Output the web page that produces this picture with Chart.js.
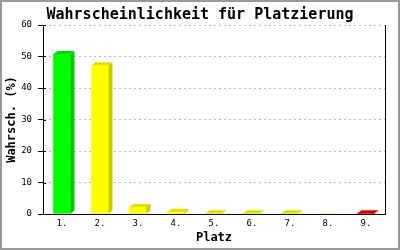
<!DOCTYPE html>
<html>
<head>
<meta charset="utf-8">
<style>
html,body{margin:0;padding:0;background:#fff;}
canvas{display:block;}
</style>
<script src="https://cdn.jsdelivr.net/npm/chart.js@4.4.1/dist/chart.umd.min.js"></script>
</head>
<body>
<canvas id="c" width="400" height="250"></canvas>
<script>
const categories = ["1.", "2.", "3.", "4.", "5.", "6.", "7.", "8.", "9."];
const values = [50.8, 47.2, 2.2, 0.7, 0.25, 0.25, 0.25, 0, 0.25];
const barColors = ["#00ff00", "#ffff00", "#ffff00", "#ffff00", "#ffff00", "#ffff00", "#ffff00", "#ffff00", "#ff0000"];
const yTicks = [0, 10, 20, 30, 40, 50, 60];

function shade(hex, f) {
  const n = parseInt(hex.slice(1), 16);
  const r = Math.round(((n >> 16) & 255) * f);
  const g = Math.round(((n >> 8) & 255) * f);
  const b = Math.round((n & 255) * f);
  return `rgb(${r},${g},${b})`;
}

const frame3d = {
  id: 'frame3d',
  beforeDraw(chart) {
    const ctx = chart.ctx;
    ctx.save();
    ctx.fillStyle = '#ffffff';
    ctx.fillRect(0, 0, chart.width, chart.height);
    ctx.restore();
  },
  afterDatasetsDraw(chart) {
    const ctx = chart.ctx;
    const meta = chart.getDatasetMeta(0);
    const dx = 4, dy = 3;
    ctx.save();
    meta.data.forEach((bar, i) => {
      if (!(values[i] > 0)) return;
      const p = bar.getProps(['x', 'y', 'base', 'width'], true);
      const l = p.x - p.width / 2, r = p.x + p.width / 2;
      const top = p.y, base = p.base;
      ctx.fillStyle = shade(barColors[i], 0.88);
      ctx.beginPath();
      ctx.moveTo(l, top);
      ctx.lineTo(l + dx, top - dy);
      ctx.lineTo(r + dx, top - dy);
      ctx.lineTo(r, top);
      ctx.closePath();
      ctx.fill();
      ctx.fillStyle = shade(barColors[i], 0.8);
      ctx.beginPath();
      ctx.moveTo(r, top);
      ctx.lineTo(r + dx, top - dy);
      ctx.lineTo(r + dx, base - dy);
      ctx.lineTo(r, base);
      ctx.closePath();
      ctx.fill();
    });
    // short inner tick marks on the y axis
    const ys = chart.scales.y;
    ctx.strokeStyle = '#000';
    ctx.lineWidth = 1;
    ctx.beginPath();
    yTicks.forEach(v => {
      const py = Math.round(ys.getPixelForValue(v)) + 0.5;
      ctx.moveTo(ys.right, py);
      ctx.lineTo(ys.right + 3, py);
    });
    ctx.stroke();
    ctx.restore();
  },
  afterDraw(chart) {
    const ctx = chart.ctx;
    ctx.save();
    ctx.strokeStyle = '#999999';
    ctx.lineWidth = 2;
    ctx.strokeRect(1, 1, chart.width - 2, chart.height - 2);
    ctx.restore();
  }
};

const mono = "'DejaVu Sans Mono', monospace";

new Chart(document.getElementById('c'), {
  type: 'bar',
  data: {
    labels: categories,
    datasets: [{
      data: values,
      backgroundColor: barColors,
      borderWidth: 0,
      barThickness: 17,
      yAxisID: 'y'
    }]
  },
  options: {
    responsive: false,
    animation: false,
    devicePixelRatio: 1,
    layout: { padding: { left: 0, right: 0, top: 0, bottom: 0 } },
    plugins: {
      legend: { display: false },
      tooltip: { enabled: false },
      title: {
        display: true,
        text: 'Wahrscheinlichkeit für Platzierung',
        color: '#000',
        font: { family: mono, size: 15, weight: 'bold', lineHeight: 1.2 },
        padding: { top: 6, bottom: 1 }
      }
    },
    scales: {
      x: {
        offset: true,
        grid: { display: false, drawTicks: false },
        border: { display: true, color: '#000', width: 1 },
        ticks: { color: '#000', font: { family: mono, size: 9 }, padding: 4, maxRotation: 0, autoSkip: false },
        title: {
          display: true, text: 'Platz', color: '#000',
          font: { family: mono, size: 12, weight: 'bold', lineHeight: 1.2 },
          padding: { top: 0, bottom: 5 }
        },
        afterFit(s) { s.height = 36; }
      },
      y: {
        position: 'left',
        min: 0, max: 60,
        afterBuildTicks(s) { s.ticks = yTicks.map(v => ({ value: v })); },
        grid: {
          color: (c) => c.tick && c.tick.value === 0 ? 'rgba(0,0,0,0)' : '#bbbbbb',
          tickColor: '#000',
          tickBorderDash: [],
          tickLength: 5,
          lineWidth: 1
        },
        border: { display: true, color: '#000', width: 1, dash: [2, 3] },
        ticks: { color: '#000', font: { family: mono, size: 9 }, padding: 6 },
        title: {
          display: true, text: 'Wahrsch. (%)', color: '#000',
          font: { family: mono, size: 12, weight: 'bold', lineHeight: 1.2 },
          padding: { top: 5, bottom: 0 }
        },
        afterFit(s) { s.width = 43; }
      },
      yr: {
        position: 'right',
        min: 0, max: 60,
        grid: { display: false, drawTicks: false },
        border: { display: true, color: '#000', width: 1 },
        ticks: { display: false },
        afterFit(s) { s.width = 15; }
      }
    }
  },
  plugins: [frame3d]
});
</script>
</body>
</html>
